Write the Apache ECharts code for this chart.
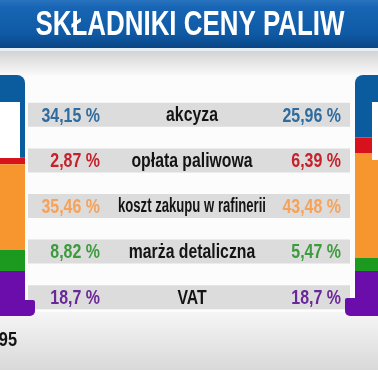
<!DOCTYPE html>
<html><head><meta charset="utf-8">
<script src="https://cdn.jsdelivr.net/npm/echarts@6/dist/echarts.min.js"></script>
<style>html,body{margin:0;padding:0;background:#fff}#c{width:378px;height:370px}</style>
</head><body><div id="c"></div>
<script>
// ---- data ----
const chartTitle = 'SKŁADNIKI CENY PALIW';
const fuels = ['Pb 95', 'ON'];
const components = ['akcyza', 'opłata paliwowa', 'koszt zakupu w rafinerii', 'marża detaliczna', 'VAT'];
const pb95Shares = [34.15, 2.87, 35.46, 8.82, 18.7];
const onShares = [25.96, 6.39, 43.48, 5.47, 18.7];

// ---- styles ----
const barColors = ['#0b5c9f', '#d7121d', '#f7962f', '#1c9a1f', '#6a0dab'];
const textColors = ['#2e6b9e', '#c4212b', '#f5a25a', '#3c9b3c', '#6a2799'];
const FONT = "'Liberation Sans', Arial, sans-serif";
const fmt = v => String(v).replace('.', ',') + ' %';

// table column anchors (fractions of the table width)
const LEFT_X = (100 - 28) / 322, MID_X = (192 - 28) / 322, RIGHT_X = (341 - 28) / 322;

const measureCtx = document.createElement('canvas').getContext('2d');
function narrowText(x, y, text, o) {
  measureCtx.font = 'bold ' + o.size + 'px ' + FONT;
  const w = measureCtx.measureText(text).width;
  let sx = o.scale;
  if (o.maxW) sx = Math.min(sx, o.maxW / w);
  return {
    type: 'text', x: x, y: y, scaleX: sx, z2: 10,
    style: {text: text, fontSize: o.size, fontWeight: 'bold', fontFamily: FONT, fill: o.color,
      align: o.align || 'center', verticalAlign: 'middle'}
  };
}

const chart = echarts.init(document.getElementById('c'), null, {renderer: 'canvas'});
const option = {
  animation: false,
  backgroundColor: '#fcfcfc',
  graphic: [
    {type: 'rect', z: 0, shape: {x: 0, y: 0, width: 378, height: 48},
      style: {fill: new echarts.graphic.LinearGradient(0, 0, 0, 1, [
        {offset: 0, color: '#2a74bf'}, {offset: 0.15, color: '#1765b4'},
        {offset: 0.7, color: '#0f5aa5'}, {offset: 1, color: '#0a4585'}])}},
    {type: 'rect', z: 0, shape: {x: 0, y: 48, width: 378, height: 3}, style: {fill: '#e6eef6'}},
    {type: 'rect', z: 0, shape: {x: 0, y: 51, width: 378, height: 26},
      style: {fill: new echarts.graphic.LinearGradient(0, 0, 0, 1, [
        {offset: 0, color: '#d3d3d3'}, {offset: 0.45, color: '#e6e6e6'}, {offset: 1, color: '#fcfcfc'}])}},
    {type: 'rect', z: 0, shape: {x: 0, y: 312, width: 378, height: 58},
      style: {fill: new echarts.graphic.LinearGradient(0, 0, 0, 1, [
        {offset: 0, color: '#f6f6f6'}, {offset: 1, color: '#d9d9d9'}])}},
    Object.assign(narrowText(190, 25, chartTitle, {size: 35, scale: 0.74, color: '#ffffff'}), {z: 5}),
    // pump display windows
    {type: 'rect', z: 100, shape: {x: -10, y: 102, width: 30, height: 56}, style: {fill: '#ffffff'}},
    {type: 'rect', z: 100, shape: {x: 372, y: 102, width: 20, height: 58}, style: {fill: '#ffffff'}},
    // pump feet
    {type: 'rect', z: 100, shape: {x: -5, y: 300, width: 40, height: 16, r: [0, 2, 5, 0]}, style: {fill: barColors[4]}},
    {type: 'rect', z: 100, shape: {x: 345, y: 298, width: 40, height: 18, r: [2, 0, 0, 5]}, style: {fill: barColors[4]}}
  ],
  grid: [
    {left: -5, right: -7, top: 75, bottom: 54, outerBoundsMode: 'none', containLabel: false},
    {left: 28, right: 28, top: 92, height: 228, outerBoundsMode: 'none', containLabel: false}
  ],
  xAxis: [
    {gridIndex: 0, type: 'category', data: fuels, boundaryGap: false, show: false},
    {gridIndex: 1, type: 'value', min: 0, max: 1, show: false}
  ],
  yAxis: [
    {gridIndex: 0, type: 'value', min: 0, max: 100, inverse: true, show: false},
    {gridIndex: 1, type: 'category', data: components, inverse: true, show: false}
  ],
  series: [
    ...components.map((c, i) => ({
      type: 'bar', name: c, stack: 'fuel', xAxisIndex: 0, yAxisIndex: 0, barWidth: 60, silent: true,
      itemStyle: {color: barColors[i]},
      data: [
        {value: pb95Shares[i], itemStyle: i === 0 ? {borderRadius: [0, 8, 0, 0]} : {}},
        {value: onShares[i], itemStyle: i === 0 ? {borderRadius: [8, 0, 0, 0]} : {}}
      ]
    })),
    // fuel names under the pumps
    {type: 'custom', xAxisIndex: 0, yAxisIndex: 0, silent: true, z: 10,
      data: fuels.map((f, i) => [i, 100]),
      renderItem: (params, api) => {
        const p = api.coord([api.value(0), api.value(1)]);
        return narrowText(p[0] + 22, p[1] + 24, fuels[params.dataIndex],
          {size: 21, scale: 0.78, color: '#141414', align: 'right'});
      }},
    // grey table bands
    {type: 'bar', xAxisIndex: 1, yAxisIndex: 1, silent: true, barWidth: 24, z: 1,
      itemStyle: {color: '#dcdcdc'}, data: components.map(() => 1)},
    // table texts
    {type: 'custom', xAxisIndex: 1, yAxisIndex: 1, silent: true, z: 10,
      data: components.map((c, i) => [MID_X, i]),
      renderItem: (params, api) => {
        const i = params.dataIndex;
        const pl = api.coord([LEFT_X, i]), pm = api.coord([MID_X, i]), pr = api.coord([RIGHT_X, i]);
        return {type: 'group', children: [
          narrowText(pl[0], pl[1] + 1, fmt(pb95Shares[i]), {size: 21, scale: 0.76, color: textColors[i], align: 'right'}),
          narrowText(pm[0], pm[1] + 1, components[i], {size: 19.5, scale: 0.81, maxW: 148, color: '#141414'}),
          narrowText(pr[0], pr[1] + 1, fmt(onShares[i]), {size: 21, scale: 0.76, color: textColors[i], align: 'right'})
        ]};
      }}
  ]
};
chart.setOption(option);
</script>
</body></html>
